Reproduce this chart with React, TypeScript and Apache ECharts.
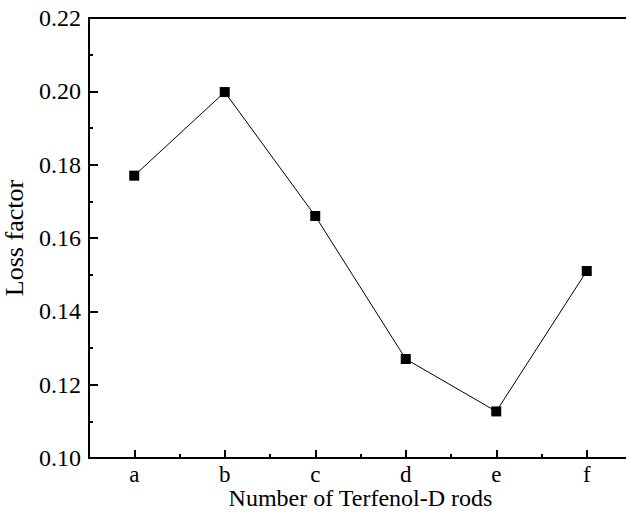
import React, { useEffect, useRef } from "react";
import * as echarts from "echarts";

const categories = ["a", "b", "c", "d", "e", "f"];
const lossFactor = [0.177, 0.1998, 0.166, 0.127, 0.1127, 0.151];
const yMin = 0.1;
const yMax = 0.22;
const yStep = 0.02;

const FONT = "Liberation Serif";

export default function App() {
  const ref = useRef<HTMLDivElement>(null);
  useEffect(() => {
    if (!ref.current) return;
    const chart = echarts.init(ref.current, undefined, { renderer: "svg" });
    chart.setOption({
      animation: false,
      backgroundColor: "#ffffff",
      grid: { left: 89, top: 18, width: 543, height: 440, containLabel: false, outerBoundsMode: "none" },
      xAxis: [
        {
          type: "category",
          data: categories,
          boundaryGap: true,
          position: "bottom",
          name: "Number of Terfenol-D rods",
          nameLocation: "middle",
          nameGap: 28,
          nameMoveOverlap: false,
          nameTextStyle: { fontFamily: FONT, fontSize: 24, color: "#000" },
          axisLine: { show: true, lineStyle: { color: "#000", width: 2 } },
          axisTick: { show: true, alignWithLabel: true, inside: true, length: 8, lineStyle: { color: "#000", width: 2 } },
          axisLabel: { fontFamily: FONT, fontSize: 23, color: "#000", margin: 5 },
          splitLine: { show: false },
        },
        {
          type: "category",
          data: categories,
          boundaryGap: true,
          position: "bottom",
          axisLine: { show: false },
          axisTick: { show: true, alignWithLabel: false, inside: true, length: 4, lineStyle: { color: "#000", width: 2 } },
          axisLabel: { show: false },
          splitLine: { show: false },
        },
        {
          type: "category",
          data: categories,
          position: "top",
          axisLine: { show: true, lineStyle: { color: "#000", width: 2 } },
          axisTick: { show: false },
          axisLabel: { show: false },
          splitLine: { show: false },
        },
      ],
      yAxis: {
        type: "value",
        min: yMin,
        max: yMax,
        interval: yStep,
        name: "Loss factor",
        nameLocation: "middle",
        nameGap: 62,
        nameMoveOverlap: false,
        nameTextStyle: { fontFamily: FONT, fontSize: 26, color: "#000" },
        axisLine: { show: true, lineStyle: { color: "#000", width: 2 } },
        axisTick: { show: true, inside: true, length: 9, lineStyle: { color: "#000", width: 2 } },
        minorTick: { show: true, splitNumber: 2, length: 4, lineStyle: { color: "#000", width: 2 } },
        axisLabel: {
          fontFamily: FONT,
          fontSize: 24,
          color: "#000",
          margin: 8,
          formatter: (v: number) => v.toFixed(2),
        },
        splitLine: { show: false },
      },
      series: [
        {
          type: "line",
          data: lossFactor,
          xAxisIndex: 0,
          symbol: "rect",
          symbolSize: 10,
          itemStyle: { color: "#000" },
          lineStyle: { color: "#000", width: 1 },
        },
      ],
    });
    return () => chart.dispose();
  }, []);
  return <div ref={ref} style={{ width: 626, height: 512, position: "fixed", left: 0, top: 0 }} />;
}
